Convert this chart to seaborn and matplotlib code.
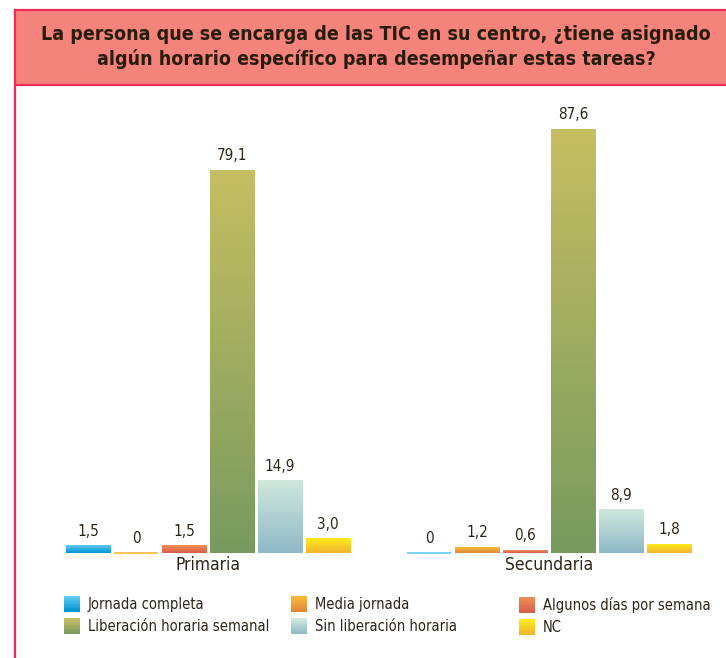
import numpy as np
import pandas as pd
import seaborn as sns
import matplotlib.pyplot as plt
from matplotlib import font_manager
from matplotlib.colors import LinearSegmentedColormap, to_rgb
from matplotlib.patches import Rectangle
from matplotlib.lines import Line2D
from matplotlib.legend_handler import HandlerBase

title = ("La persona que se encarga de las TIC en su centro, ¿tiene asignado\n"
         "algún horario específico para desempeñar estas tareas?")
groups = ["Primaria", "Secundaria"]
answers = ["Jornada completa", "Media jornada", "Algunos días por semana",
           "Liberación horaria semanal", "Sin liberación horaria", "NC"]
primaria = [1.5, 0, 1.5, 79.1, 14.9, 3.0]
secundaria = [0, 1.2, 0.6, 87.6, 8.9, 1.8]

top_colors = ["#62cbf2", "#f7b83a", "#f08e56", "#c6be62", "#cfe8dc", "#fdea1c"]
bottom_colors = ["#0094d4", "#e0883a", "#d65e4a", "#789a5f", "#8fb8c7", "#f0b52e"]

TEXT = "#2e2518"


class GradientHandler(HandlerBase):
    def __init__(self, top, bottom):
        super().__init__()
        self.top = np.array(to_rgb(top))
        self.bottom = np.array(to_rgb(bottom))

    def create_artists(self, legend, orig_handle, xdescent, ydescent,
                       width, height, fontsize, trans):
        w = width
        h = width
        y0 = -ydescent + (height - h) / 2
        x0 = -xdescent
        n = 12
        arts = []
        for i in range(n):
            c = self.bottom + (self.top - self.bottom) * i / (n - 1)
            arts.append(Rectangle((x0, y0 + h * i / n), w, h / n + 0.05,
                                  facecolor=c, edgecolor="none", transform=trans))
        return arts


def main():
    names = {f.name for f in font_manager.fontManager.ttflist}
    if "Liberation Sans Narrow" in names:
        plt.rcParams["font.family"] = ["Liberation Sans Narrow", "DejaVu Sans"]
    else:
        plt.rcParams["font.family"] = ["DejaVu Sans"]
        plt.rcParams["font.stretch"] = "condensed"

    df = pd.DataFrame({
        "grupo": np.repeat(groups, len(answers)),
        "respuesta": answers * 2,
        "valor": primaria + secundaria,
    })

    fig = plt.figure(figsize=(7.26, 6.58), dpi=100)
    ax = fig.add_axes([16 / 726, 105 / 658, 710 / 726, 453 / 658])

    sns.barplot(data=df, x="grupo", y="valor", hue="respuesta", hue_order=answers,
                palette=bottom_colors, width=0.845, gap=0.08, errorbar=None,
                legend=False, ax=ax)

    for cont, top, bot in zip(ax.containers, top_colors, bottom_colors):
        cmap = LinearSegmentedColormap.from_list("g", [bot, top])
        for bar in cont:
            x, y = bar.get_x(), bar.get_y()
            w, h = bar.get_width(), bar.get_height()
            if h <= 0:
                # zero values are shown as a thin line on the baseline
                bar.set_edgecolor(top)
                bar.set_linewidth(1.2)
                bar.set_clip_on(False)
                continue
            ax.imshow(np.linspace(0, 1, 256).reshape(-1, 1), cmap=cmap,
                      origin="lower", extent=[x, x + w, y, y + h],
                      aspect="auto", zorder=2)
            bar.set_facecolor("none")
            bar.set_edgecolor("none")
        labels = ["0" if v == 0 else f"{v:.1f}".replace(".", ",") for v in cont.datavalues]
        ax.bar_label(cont, labels=labels, padding=5, fontsize=11, color=TEXT)

    ax.set_xlim(-0.563, 1.519)
    ax.set_ylim(0, 93.6)
    ax.set_xlabel("")
    ax.set_ylabel("")
    ax.set_yticks([])
    ax.tick_params(axis="x", length=0, pad=2, labelsize=12.5, labelcolor=TEXT)
    for s in ax.spines.values():
        s.set_visible(False)
    ax.patch.set_alpha(0)

    # title box and left frame line
    fig.patches.append(Rectangle((15 / 726, 1 - 85 / 658), 720 / 726, 75 / 658,
                                 transform=fig.transFigure, facecolor="#f4847b",
                                 edgecolor="#ee2a5a", linewidth=1.6, zorder=0))
    fig.lines.append(Line2D([15 / 726, 15 / 726], [0, 1 - 85 / 658],
                            transform=fig.transFigure, color="#ee2a5a", linewidth=1.6))
    fig.text(0.518, 1 - 47 / 658, title, ha="center", va="center", fontsize=14,
             fontweight="bold", color="#2a1c0c", linespacing=1.35)

    # legend in three columns
    xs = [64 / 726, 291 / 726, 519 / 726]
    for col in range(3):
        idx = [col, col + 3]
        handles = [Rectangle((0, 0), 1, 1) for _ in idx]
        hmap = {hd: GradientHandler(top_colors[i], bottom_colors[i]) for hd, i in zip(handles, idx)}
        fig.legend(handles, [answers[i] for i in idx], handler_map=hmap,
                   loc="upper left", bbox_to_anchor=(xs[col], 1 - 597 / 658),
                   frameon=False, fontsize=10.5, labelcolor=TEXT, handlelength=1.1,
                   handletextpad=0.55, labelspacing=0.5, borderaxespad=0,
                   borderpad=0)

    fig.savefig("out.png", dpi=100)
    plt.close(fig)


if __name__ == "__main__":
    main()
